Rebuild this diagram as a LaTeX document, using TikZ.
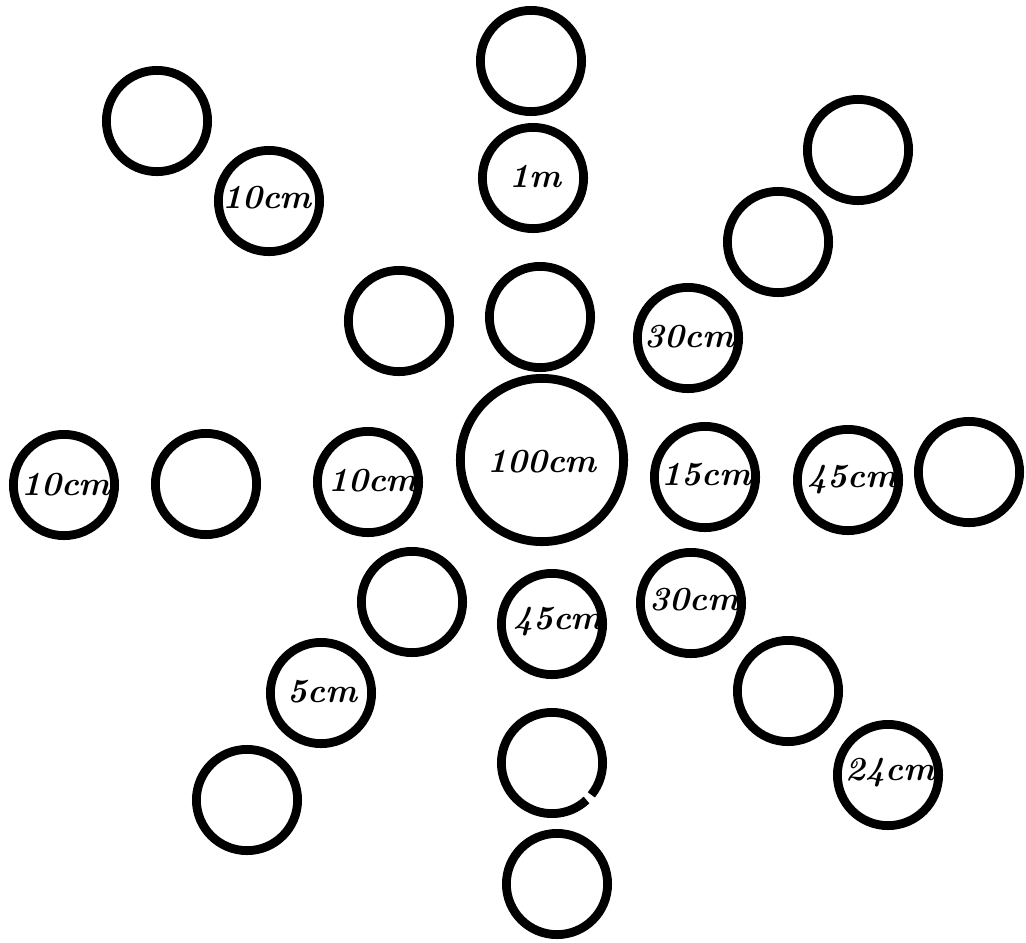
\documentclass[tikz,border=0pt]{standalone}
\usepackage{fontspec}
\begin{document}
\begin{tikzpicture}[x=0.025cm,y=-0.025cm,
 		ring/.style={draw,circle,line width=0.22cm,minimum size=2.53cm,inner sep=0pt,outer sep=0pt},
 		lbl/.style={inner sep=0pt,font=\fontsize{24}{28}\selectfont\bfseries\itshape\addfontfeature{LetterSpace=2}}]
 		\useasboundingbox (0,0) rectangle (1026,942);
 		% centre
 		\node [ring,minimum size=4.08cm] (v0) at (542,460) {};
 		% top column
 		\node [ring] (v1) at (531,61) {};
 		\node [ring] (v2) at (533,178) {};
 		\node [ring] (v3) at (540,317) {};
 		% upper left
 		\node [ring] (v4) at (157,121) {};
 		\node [ring] (v5) at (269,201) {};
 		\node [ring] (v6) at (399,321) {};
 		% upper right
 		\node [ring] (v7) at (858,150) {};
 		\node [ring] (v8) at (778,242) {};
 		\node [ring] (v9) at (688,338) {};
 		% left row
 		\node [ring] (v10) at (64,485) {};
 		\node [ring] (v11) at (206,484) {};
 		\node [ring] (v12) at (368,482) {};
 		% right row
 		\node [ring] (v13) at (705,477) {};
 		\node [ring] (v14) at (848,480) {};
 		\node [ring] (v15) at (969,472) {};
 		% lower left
 		\node [ring] (v16) at (412,602) {};
 		\node [ring] (v17) at (321,693) {};
 		\node [ring] (v18) at (247,800) {};
 		% lower right
 		\node [ring] (v19) at (691,603) {};
 		\node [ring] (v20) at (788,691) {};
 		\node [ring] (v21) at (888,775) {};
 		% bottom column
 		\node [ring] (v22) at (552,624) {};
 		\node [ring,draw=none] (v23) at (552,763) {};
 		\draw [line width=0.22cm] (v23.-39) arc [start angle=-39, end angle=313, radius=1.265cm];
 		\node [ring] (v24) at (557,884) {};
 		% labels
 		\node [lbl] (t0) at (542,462) {100cm};
 		\node [lbl] (t2) at (535,176) {1m};
 		\node [lbl] (t5) at (267,198) {10cm};
 		\node [lbl] (t9) at (689,337) {30cm};
 		\node [lbl] (t10) at (66,485) {10cm};
 		\node [lbl] (t12) at (373,481) {10cm};
 		\node [lbl] (t13) at (706,475) {15cm};
 		\node [lbl] (t14) at (852,480) {45cm};
 		\node [lbl] (t17) at (322,692) {5cm};
 		\node [lbl] (t19) at (694,600) {30cm};
 		\node [lbl] (t21) at (890,773) {24cm};
 		\node [lbl] (t22) at (558,622) {45cm};
 		\end{tikzpicture}
\end{document}
